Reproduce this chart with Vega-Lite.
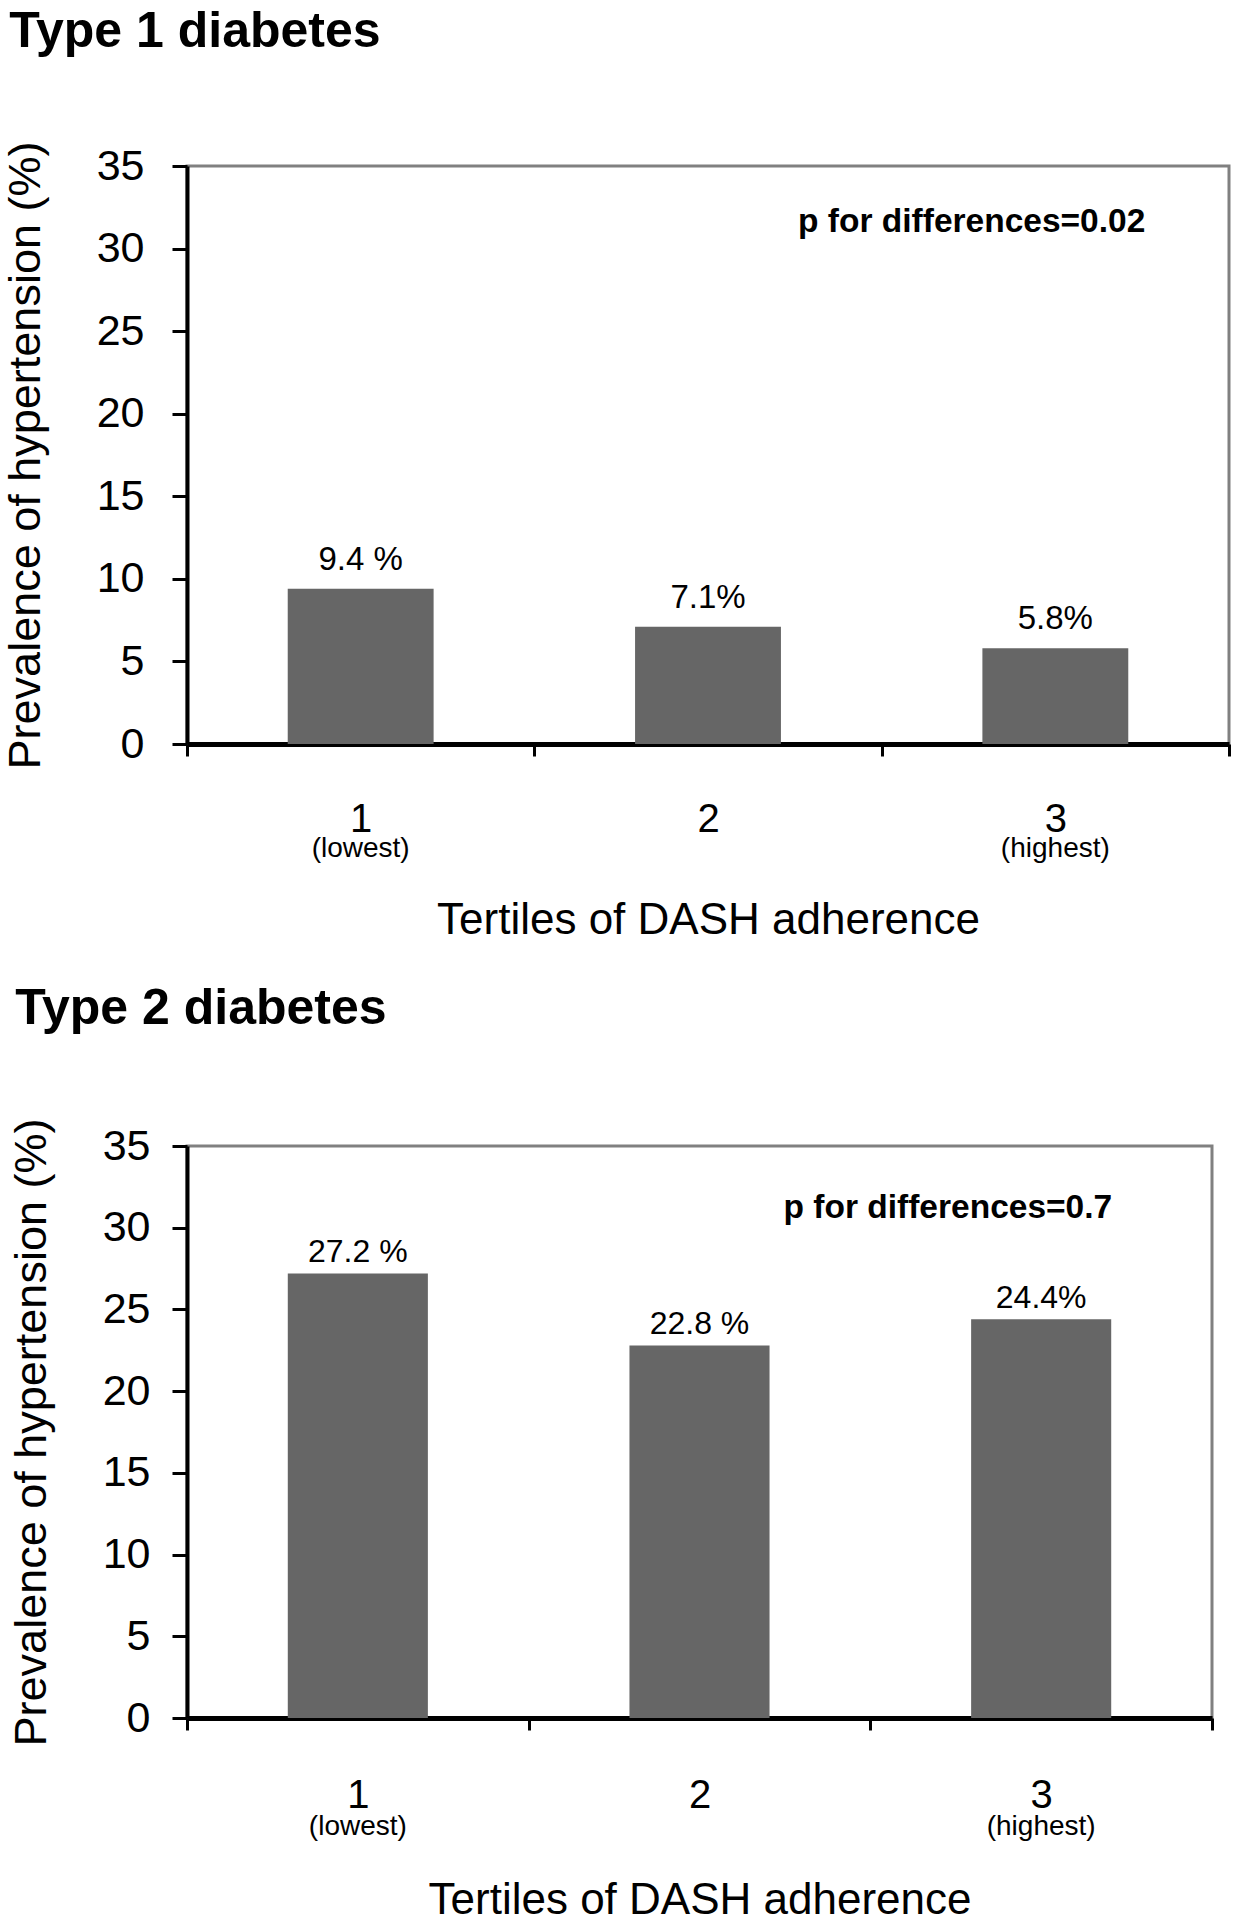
{
  "$schema": "https://vega.github.io/schema/vega-lite/v6.json",
  "background": "white",
  "padding": {"left": 1, "top": 5, "right": 5, "bottom": 0},
  "align": "none",
  "spacing": 38,
  "config": {
    "font": "Liberation Sans",
    "view": {"stroke": "#808080", "strokeWidth": 3},
    "axis": {"labelColor": "black", "titleColor": "black", "titleFontWeight": "normal", "grid": false}
  },
  "datasets": {
    "t1": [
      {"tertile": "1", "value": 9.4, "label": "9.4 %"},
      {"tertile": "2", "value": 7.1, "label": "7.1%"},
      {"tertile": "3", "value": 5.8, "label": "5.8%"}
    ],
    "t2": [
      {"tertile": "1", "value": 27.2, "label": "27.2 %"},
      {"tertile": "2", "value": 22.8, "label": "22.8 %"},
      {"tertile": "3", "value": 24.4, "label": "24.4%"}
    ],
    "p1": [{"tertile": "3", "value": 31.0, "text": "p for differences=0.02"}],
    "p2": [{"tertile": "3", "value": 30.6, "text": "p for differences=0.7"}]
  },
  "vconcat": [
    {
      "title": {"text": "Type 1 diabetes", "anchor": "start", "fontSize": 50, "fontWeight": "bold", "color": "black", "offset": 84, "dx": 6},
      "width": 1042,
      "height": 578,
      "resolve": {"axis": {"x": "independent"}},
      "layer": [
        {
          "data": {"name": "t1"},
          "mark": {"type": "bar", "width": {"band": 0.42}, "color": "#666666"},
          "encoding": {
            "x": {"field": "tertile", "type": "nominal", "scale": {"paddingInner": 0, "paddingOuter": 0},
              "axis": {"orient": "bottom", "title": null, "labelAngle": 0, "labelFontSize": 40, "labelPadding": 43, "tickBand": "extent", "tickSize": 12, "tickWidth": 3, "tickColor": "black", "domainColor": "black", "domainWidth": 5}},
            "y": {"field": "value", "type": "quantitative", "scale": {"domain": [0, 35]},
              "axis": {"title": "Prevalence of hypertension (%)", "titleFontSize": 45, "titlePadding": 48, "labelFontSize": 43, "labelPadding": 28, "values": [0, 5, 10, 15, 20, 25, 30, 35], "tickSize": 15, "tickWidth": 3, "tickColor": "black", "domainColor": "black", "domainWidth": 4}}
          }
        },
        {
          "data": {"name": "t1"},
          "mark": {"type": "text", "fontSize": 33, "dy": -19, "baseline": "alphabetic", "color": "black"},
          "encoding": {
            "x": {"field": "tertile", "type": "nominal",
              "axis": {"orient": "bottom", "title": "Tertiles of DASH adherence", "titleFontSize": 44, "titlePadding": 36, "labelExpr": "datum.value == '1' ? '(lowest)' : datum.value == '3' ? '(highest)' : ''", "labelFontSize": 28, "labelPadding": 90, "domain": false, "ticks": false, "tickSize": 0, "labelAngle": 0}},
            "y": {"field": "value", "type": "quantitative"},
            "text": {"field": "label"}
          }
        },
        {
          "data": {"name": "p1"},
          "mark": {"type": "text", "fontSize": 33.5, "fontWeight": "bold", "align": "right", "dx": 90, "baseline": "alphabetic", "color": "black"},
          "encoding": {
            "x": {"field": "tertile", "type": "nominal", "axis": null},
            "y": {"field": "value", "type": "quantitative"},
            "text": {"field": "text"}
          }
        }
      ]
    },
    {
      "title": {"text": "Type 2 diabetes", "anchor": "start", "fontSize": 50, "fontWeight": "bold", "color": "black", "offset": 84, "dx": 6},
      "width": 1025,
      "height": 572,
      "resolve": {"axis": {"x": "independent"}},
      "layer": [
        {
          "data": {"name": "t2"},
          "mark": {"type": "bar", "width": {"band": 0.41}, "color": "#666666"},
          "encoding": {
            "x": {"field": "tertile", "type": "nominal", "scale": {"paddingInner": 0, "paddingOuter": 0},
              "axis": {"orient": "bottom", "title": null, "labelAngle": 0, "labelFontSize": 40, "labelPadding": 45, "tickBand": "extent", "tickSize": 12, "tickWidth": 3, "tickColor": "black", "domainColor": "black", "domainWidth": 5}},
            "y": {"field": "value", "type": "quantitative", "scale": {"domain": [0, 35]},
              "axis": {"title": "Prevalence of hypertension (%)", "titleFontSize": 45, "titlePadding": 48, "labelFontSize": 43, "labelPadding": 22, "values": [0, 5, 10, 15, 20, 25, 30, 35], "tickSize": 15, "tickWidth": 3, "tickColor": "black", "domainColor": "black", "domainWidth": 4}}
          }
        },
        {
          "data": {"name": "t2"},
          "mark": {"type": "text", "fontSize": 32, "dy": -11, "baseline": "alphabetic", "color": "black"},
          "encoding": {
            "x": {"field": "tertile", "type": "nominal",
              "axis": {"orient": "bottom", "title": "Tertiles of DASH adherence", "titleFontSize": 44, "titlePadding": 38, "labelExpr": "datum.value == '1' ? '(lowest)' : datum.value == '3' ? '(highest)' : ''", "labelFontSize": 28, "labelPadding": 94, "domain": false, "ticks": false, "tickSize": 0, "labelAngle": 0}},
            "y": {"field": "value", "type": "quantitative"},
            "text": {"field": "label"}
          }
        },
        {
          "data": {"name": "p2"},
          "mark": {"type": "text", "fontSize": 33.5, "fontWeight": "bold", "align": "right", "dx": 71, "baseline": "alphabetic", "color": "black"},
          "encoding": {
            "x": {"field": "tertile", "type": "nominal", "axis": null},
            "y": {"field": "value", "type": "quantitative"},
            "text": {"field": "text"}
          }
        }
      ]
    }
  ]
}
